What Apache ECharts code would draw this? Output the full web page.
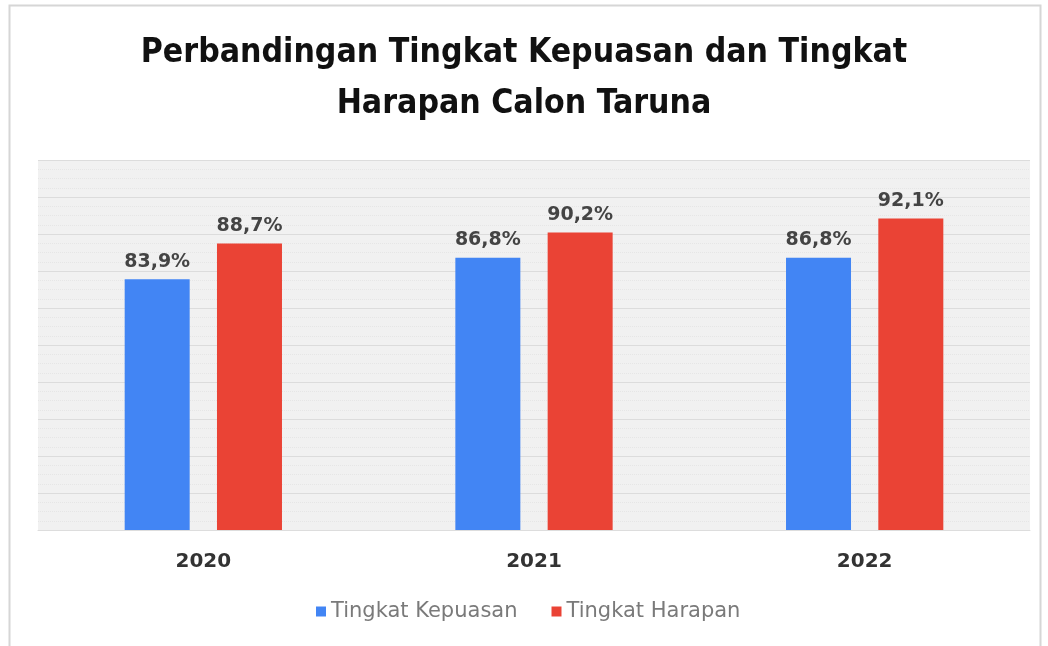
<!DOCTYPE html>
<html><head><meta charset="utf-8">
<script src="https://cdn.jsdelivr.net/npm/echarts@6/dist/echarts.min.js"></script>
<style>html,body{margin:0;padding:0;background:#fff}#c{width:1048px;height:646px}</style>
</head><body><div id="c"></div>
<script>
const categories = ['2020', '2021', '2022'];
const kepuasan = [83.9, 86.8, 86.8];
const harapan = [88.7, 90.2, 92.1];
const seriesNames = ['Tingkat Kepuasan', 'Tingkat Harapan'];
const titleText = 'Perbandingan Tingkat Kepuasan dan Tingkat\nHarapan Calon Taruna';

const chart = echarts.init(document.getElementById('c'));
const fmt = p => p.value.toFixed(1).replace('.', ',') + '%';
const lbl = {show: true, position: 'top', distance: 8, formatter: fmt, color: '#444', fontSize: 19, fontWeight: 'bold', fontFamily: 'DejaVu Sans'};
chart.setOption({
  backgroundColor: '#fff',
  graphic: [{type: 'rect', shape: {x: 9.5, y: 5.5, width: 1031, height: 700}, style: {fill: 'none', stroke: '#d6d6d6', lineWidth: 2}, z: -1}],
  title: {text: titleText, left: 'center', top: 23, textStyle: {fontFamily: 'DejaVu Sans Condensed', fontWeight: 'bold', fontSize: 33.5, color: '#111', lineHeight: 51}},
  legend: {bottom: 19, left: 311, itemWidth: 10, itemHeight: 10, itemGap: 34, icon: 'rect',
    textStyle: {color: '#7a7a7a', fontSize: 21, fontFamily: 'DejaVu Sans'}, data: seriesNames},
  grid: {left: 38, right: 18, top: 160, bottom: 116, show: true, backgroundColor: '#f1f1f1', borderWidth: 0},
  xAxis: {type: 'category', data: categories, axisLine: {show: true, lineStyle: {color: '#ddd'}}, axisTick: {show: false},
    axisLabel: {margin: 22, color: '#333', fontSize: 20, fontWeight: 'bold', fontFamily: 'DejaVu Sans'}},
  yAxis: {type: 'value', min: 50, max: 100, interval: 5, axisLabel: {show: false}, axisLine: {show: false}, axisTick: {show: false},
    splitLine: {lineStyle: {color: '#dcdcdc', width: 1}},
    minorTick: {show: false, splitNumber: 4}, minorSplitLine: {show: true, lineStyle: {color: '#e6e6e6', type: 'dotted'}}},
  series: [
    {name: seriesNames[0], type: 'bar', data: kepuasan, barWidth: 65, barGap: '42%', itemStyle: {color: '#4285f4'}, label: lbl},
    {name: seriesNames[1], type: 'bar', data: harapan, barWidth: 65, itemStyle: {color: '#ea4335'}, label: lbl}
  ]
});
</script></body></html>
